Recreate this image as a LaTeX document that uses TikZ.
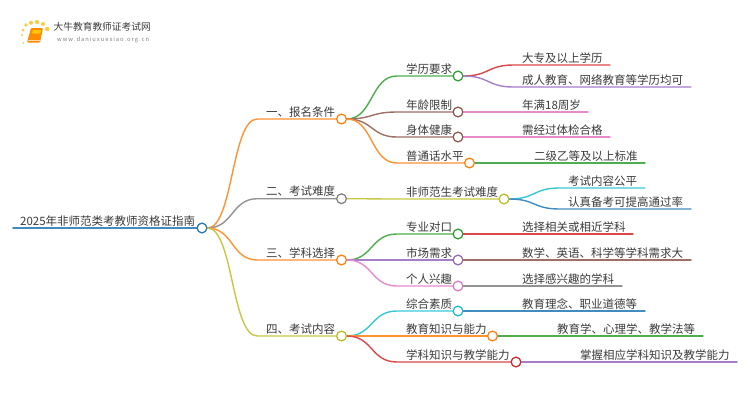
\documentclass[tikz,border=0pt]{standalone}
\usepackage{fontspec}
\setmainfont{Noto Sans CJK SC}
\usetikzlibrary{calc}
\definecolor{cblue}{HTML}{1F77B4}
\definecolor{corange}{HTML}{FF7F0E}
\definecolor{cgreen}{HTML}{2CA02C}
\definecolor{cred}{HTML}{D62728}
\definecolor{cpurple}{HTML}{9467BD}
\definecolor{cbrown}{HTML}{8C564B}
\definecolor{cpink}{HTML}{E377C2}
\definecolor{cgray}{HTML}{7F7F7F}
\definecolor{colive}{HTML}{BCBD22}
\definecolor{ccyan}{HTML}{17BECF}
\definecolor{ctext}{HTML}{3A3A3A}
\begin{document}
\begin{tikzpicture}[x=1pt, y=-1pt, line cap=round,
        dot/.style={
            % The shape:
            circle, inner sep=0pt,
            % The size:
            minimum size=9.6pt,
            % The border
            line width=1.1pt, draw=#1,
            % The filling
            fill=white},
        label/.style={anchor=base west, inner sep=0pt, text=ctext, font=\fontsize{11.5pt}{12pt}\selectfont},
        link/.style={line width=1.4pt, draw=#1!85}]
        \useasboundingbox (0,0) rectangle (750,410);
        % the logo
        \foreach \x/\y/\r in {22/35/1.2,23/30/1.5,26/25/1.8,31/22.8/2,37/22/2.1,43/24/2,47.3/29/2.2,23.5/43/.9}{
          \fill [orange!55!yellow!75] (\x,\y) circle (\r);
        }
        \fill [orange!90!yellow, rounded corners=1pt] (31,28) -- (43,28) -- (40,42.5) -- (27,42.5) -- cycle;
        \fill [yellow!60!orange] (33,30) -- (41,30) -- (40.2,33.5) -- (32.2,33.5) -- cycle;
        \draw [orange!30, line width=.7pt] (28.5,40) -- (40,40);
        \node [anchor=base west, inner sep=0pt, text=ctext, font=\fontsize{9.7pt}{11pt}\selectfont] (logotitle) at (53.5,30.5) {大牛教育教师证考试网};
        \node [anchor=base west, inner sep=0pt, text=gray, font=\fontsize{5.8pt}{7pt}\selectfont] (logourl) at (57,41) {w\,w\,w\,.\,d\,a\,n\,i\,u\,x\,u\,e\,x\,i\,a\,o\,.\,o\,r\,g\,.\,c\,n};
        % the dots
        \node [dot=cblue] (root) at (202,228) {};
        \foreach \name/\x/\y/\col in {
            one/341.5/119/corange, two/341.5/198.7/cgray, three/341.5/260/corange, four/341.5/336/colive,
            edu/458/76/cgreen, age/458/112/cbrown, body/458/137/cbrown, lang/469.5/163/corange, hard/504/199/colive,
            major/458/234/cgreen, market/458/260/cpurple, like/458/286/cpink,
            whole/458/311/ccyan, know/492.5/336/corange, teach/516/362/cred}{
          \node [dot=\col] (\name) at (\x,\y) {};
        }
        % free ends of the leaves
        \foreach \name/\x/\y in {
            edua/610/65, edub/691/87, agea/588/112, bodya/610/137, langa/645/163,
            harda/645/188, hardb/691/209, majora/633/234, marketa/691/260, likea/622/286,
            wholea/645/311, knowa/703/336, teacha/737/362}{
          \coordinate (\name) at (\x,\y);
        }
        \coordinate (rootstart) at (13,228);
        \draw [link=cblue, line width=1.9pt] (rootstart) -- (root);
        % branches: parent, child, colour
        \foreach \from/\to/\col in {
            root/one/corange, root/two/cgray, root/three/corange, root/four/colive,
            one/edu/cgreen, one/age/cbrown, one/body/cbrown, one/lang/corange,
            two/hard/colive,
            three/major/cgreen, three/market/cpurple, three/like/cpink,
            four/whole/ccyan, four/know/corange, four/teach/cred,
            edu/edua/cred, edu/edub/cpurple, age/agea/cpink, body/bodya/cpink, lang/langa/cgreen,
            hard/harda/ccyan, hard/hardb/cblue, major/majora/cred, market/marketa/cbrown, like/likea/cgray,
            whole/wholea/cblue, know/knowa/cgreen, teach/teacha/cpurple}{
          \path ($(\from.east)+(50,0)$) coordinate (knee);
          \draw [link=\col] (\from.east) .. controls +(26,0) and +(-26,0) .. (knee |- \to) -- (\to);
        }
        % redraw dots over the lines
        \node [dot=cblue] at (root) {};
        \foreach \name/\col in {
            one/corange, two/cgray, three/corange, four/colive,
            edu/cgreen, age/cbrown, body/cbrown, lang/corange, hard/colive,
            major/cgreen, market/cpurple, like/cpink,
            whole/ccyan, know/corange, teach/cred}{
          \node [dot=\col] at (\name) {};
        }
        % the texts
        \node [label] (roottext) at (20,225) {2025年非师范类考教师资格证指南};
        \foreach \name/\x/\y/\txt in {
            onetext/266/116/一、报名条件, twotext/266/195.7/二、考试难度, threetext/266/257/三、学科选择, fourtext/266/333/四、考试内容,
            edutext/406/73/学历要求, agetext/406/109/年龄限制, bodytext/406/134/身体健康, langtext/406/160/普通话水平, hardtext/406/196/非师范生考试难度,
            majortext/406/231/专业对口, markettext/406/257/市场需求, liketext/406/283/个人兴趣,
            wholetext/406/308/综合素质, knowtext/406/333/教育知识与能力, teachtext/406/359/学科知识与教学能力,
            eduatext/522/62/大专及以上学历, edubtext/522/84/成人教育、网络教育等学历均可, ageatext/522/109/年满18周岁, bodyatext/522/134/需经过体检合格, langatext/534/160/二级乙等及以上标准,
            hardatext/568/185/考试内容公平, hardbtext/568/206/认真备考可提高通过率, majoratext/522/231/选择相关或相近学科, marketatext/522/257/数学、英语、科学等学科需求大, likeatext/522/283/选择感兴趣的学科,
            wholeatext/522/308/教育理念、职业道德等, knowatext/557/333/教育学、心理学、教学法等, teachatext/580/359/掌握相应学科知识及教学能力}{
          \node [label] (\name) at (\x,\y) {\txt};
        }
\end{tikzpicture}
\end{document}
